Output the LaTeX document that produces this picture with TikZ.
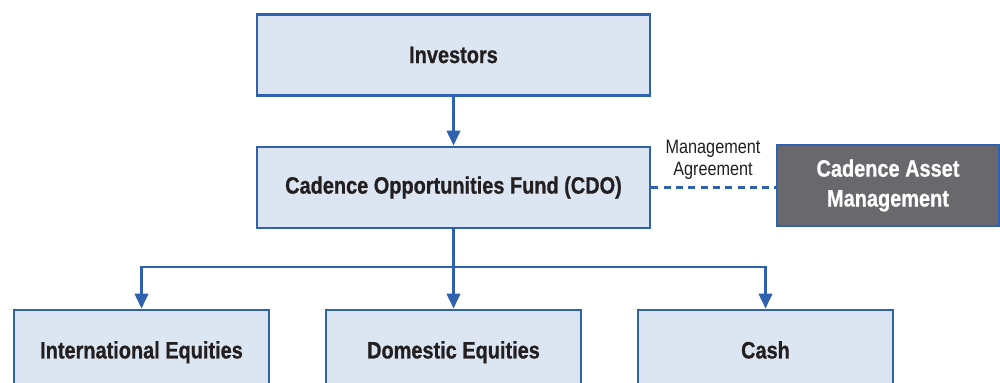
\documentclass[tikz,border=0pt]{standalone}
\usepackage{fontspec}
\setmainfont{Liberation Sans}[FakeStretch=0.84,BoldFeatures={FakeBold=0.8}]
\usepackage{tikz}
\usetikzlibrary{arrows.meta,positioning}
\usepackage{xcolor}
\definecolor{fund}{HTML}{DCE6F2}
\definecolor{manager}{HTML}{69696D}
\definecolor{frame}{HTML}{2F62AE}
\definecolor{ink}{HTML}{231F20}
\tikzset{
  >={Triangle[length=3mm,width=2.7mm]},
  every node/.style={text=ink},
  box/.style={draw=frame,line width=1.6pt,fill=fund,minimum width=78.6mm,minimum height=16.2mm,
    align=center,font=\fontsize{13.5}{17}\selectfont\bfseries},
  assetbox/.style={box,minimum width=51mm,minimum height=16.4mm,text height=2.2ex,text depth=.6ex},
  mgrbox/.style={box,fill=manager,text=white,minimum width=44.4mm},
  arrow/.style={->,line width=1.6pt,draw=frame},
  link/.style={line width=1.6pt,draw=frame},
  agreement/.style={line width=1.6pt,draw=frame,dash pattern=on 4pt off 3pt},
  label/.style={font=\fontsize{11}{12.5}\selectfont,align=center,inner sep=1pt},
}

\begin{document}
\begin{tikzpicture}
  \useasboundingbox (0,0) rectangle (20,-7.66);

  \node[box] (investors) at (9.07,-1.1) {Investors};
  \node[box] (cdo) at (9.07,-3.75) {Cadence Opportunities Fund (CDO)};
  \node[mgrbox] (cam) at (17.76,-3.71) {Cadence Asset\\Management};

  \node[assetbox] (intl) at (2.83,-7.02) {International Equities};
  \node[assetbox] (domestic) at (9.07,-7.02) {Domestic Equities};
  \node[assetbox] (cash) at (15.31,-7.02) {Cash};

  \draw[arrow] (investors) -- (cdo);
  \draw[agreement] (cdo.east) -- (cdo.east -| cam.west);
  \node[label] (mgmt) at (14.26,-3.2) {Management\\Agreement};

  % branch out to the three asset classes
  \coordinate (split) at (9.07,-5.34);
  \draw[link] (cdo.south) -- (split);
  \draw[arrow] (split) -- (domestic.north);
  \draw[arrow] (split) -| (intl.north);
  \draw[arrow] (split) -| (cash.north);
\end{tikzpicture}
\end{document}
